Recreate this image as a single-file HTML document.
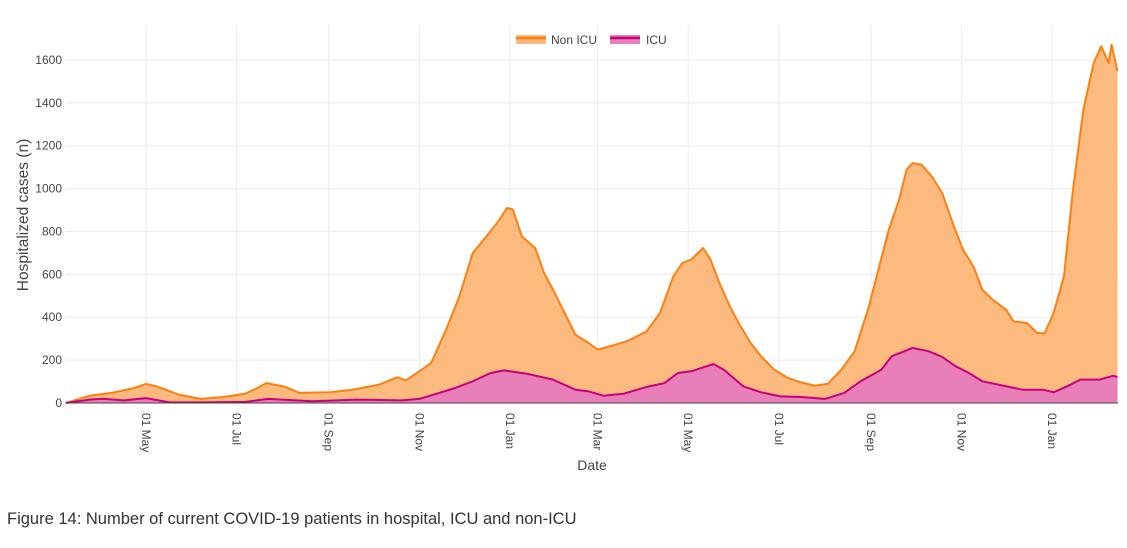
<!DOCTYPE html>
<html><head><meta charset="utf-8"><style>
body{margin:0;background:#fff;width:1127px;height:548px;overflow:hidden;font-family:"Liberation Sans",sans-serif}
</style></head><body>
<svg id="chart" width="1127" height="548" xmlns="http://www.w3.org/2000/svg" style="position:absolute;left:0;top:0">
<g id="grid"></g><g id="areas"></g><g id="axes"></g>
<g>
<rect x="516" y="35" width="30" height="9" fill="#FCBA7E"/>
<line x1="516" x2="546" y1="38" y2="38" stroke="#FF7F0E" stroke-width="2.5"/>
<text x="551" y="44" font-size="12" fill="#444">Non ICU</text>
<rect x="610" y="35" width="30" height="9" fill="#E87FB8"/>
<line x1="610" x2="640" y1="38" y2="38" stroke="#C7007D" stroke-width="2.5"/>
<text x="646" y="44" font-size="12" fill="#444">ICU</text>
</g>
<text x="28" y="215" font-size="15.5" fill="#444" text-anchor="middle" transform="rotate(-90 28 215)">Hospitalized cases (n)</text>
<text x="592" y="470" font-size="14" fill="#444" text-anchor="middle">Date</text>
<text x="7" y="524" font-size="16.5" fill="#333">Figure 14: Number of current COVID-19 patients in hospital, ICU and non-ICU</text>
</svg>
<script>
// days since 2020-05-01
const totalDays=[-54,-38,-23,-8,0,7,22,37,52,67,75,81,94,103,124,139,157,169,175,184,192,202,211,220,231,238,243,247,253,262,268,274,283,289,298,304,316,325,337,346,355,361,367,375,380,386,393,399,407,414,423,432,441,450,459,468,477,486,493,500,507,512,516,522,529,536,543,550,557,563,570,579,584,593,600,605,611,618,624,631,638,643,648,650,654];
const hospitalTotal=[0,34,47,70,89,78,39,19,28,44,70,93,75,47,50,62,86,120,106,148,187,342,497,700,793,855,910,902,777,723,606,529,404,319,280,249,272,292,334,420,591,653,669,723,669,560,451,373,280,218,155,117,96,81,89,155,241,435,622,808,948,1088,1119,1112,1057,979,840,715,637,529,482,435,381,373,326,326,420,591,995,1368,1586,1664,1586,1671,1547];
const icuDays=[-54,-38,-29,-15,0,16,37,67,82,112,142,172,184,196,208,220,232,241,256,274,289,298,308,322,337,349,358,367,382,389,402,414,427,441,457,470,481,495,502,516,527,536,545,554,563,577,590,604,611,620,629,642,651,654];
const icuValues=[0,16,20,12,23,3,3,5,19,8,16,12,19,44,70,101,140,152,137,109,62,54,34,44,75,93,140,148,182,155,78,50,31,28,19,47,101,155,218,257,241,215,171,140,101,81,62,62,50,78,109,109,127,121];
const yTicks=[0,200,400,600,800,1000,1200,1400,1600];
const xTickDays=[0,61,123,184,245,304,365,426,488,549,610];
const xTickLabels=["01 May","01 Jul","01 Sep","01 Nov","01 Jan","01 Mar","01 May","01 Jul","01 Sep","01 Nov","01 Jan"];

const NS="http://www.w3.org/2000/svg";
const X0=66,X1=1118,Y0=403;
const xs=d=>146+d*1.4855;
const ys=v=>Y0-v*0.2144;
function mk(tag,attrs,parent){const e=document.createElementNS(NS,tag);for(const k in attrs)e.setAttribute(k,attrs[k]);document.getElementById(parent).appendChild(e);return e;}
yTicks.forEach(v=>{
  const l=mk('line',{x1:X0,x2:X1,y1:ys(v),y2:ys(v),stroke:v?'#ebebeb':'#444','stroke-width':1},v?'grid':'axes');
  
  
  const t=mk('text',{x:X0-4,y:ys(v)+4,'font-size':12,fill:'#444','text-anchor':'end'},'axes');
  t.textContent=v;
  
  
});
xTickDays.forEach((d,i)=>{
  const x=xs(d);
  const l=mk('line',{x1:x,x2:x,y1:25,y2:Y0,stroke:'#ebebeb','stroke-width':1},'grid');
  
  
  const t=mk('text',{x:x-4,y:413,'font-size':12,fill:'#444',transform:`rotate(90 ${x-4} 413)`},'axes');
  t.textContent=xTickLabels[i];
  
  
});
function pts(days,vals){return days.map((d,i)=>`${xs(d).toFixed(1)},${ys(vals[i]).toFixed(1)}`).join(' L');}
function area(days,vals,fill,stroke,name){
  const line='M'+pts(days,vals);
  const a=mk('path',{d:line+` L${xs(days[days.length-1])},${Y0} L${xs(days[0])},${Y0}Z`,fill:fill},'areas');
  
  
  const p=mk('path',{d:line,fill:'none',stroke:stroke,'stroke-width':2,'stroke-linejoin':'round'},'areas');
  
  
}
area(totalDays,hospitalTotal,'#FCBA7E','#FF7F0E','non-icu');
area(icuDays,icuValues,'#E87FB8','#C7007D','icu');
</script>
</body></html>
